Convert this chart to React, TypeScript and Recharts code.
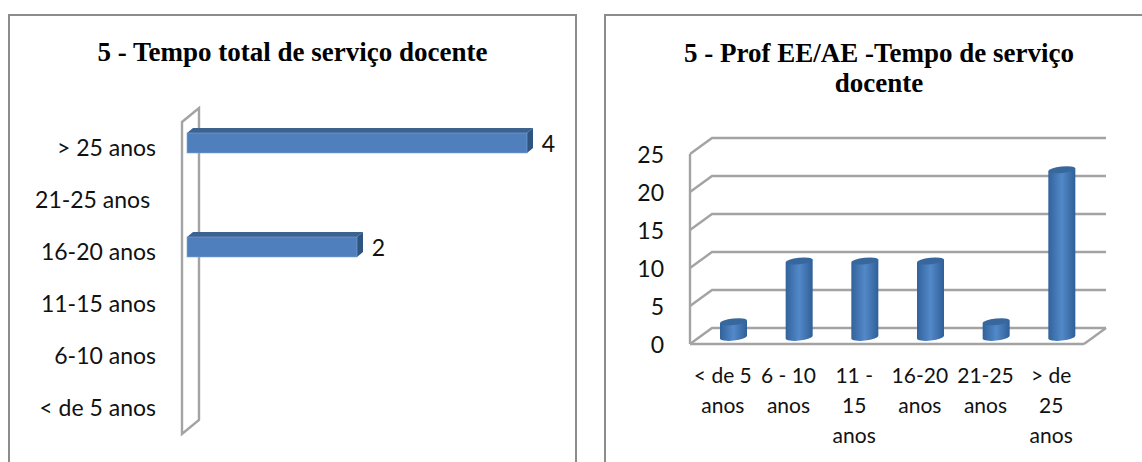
import { Bar, BarChart, CartesianGrid, LabelList, ReferenceArea, XAxis, YAxis } from "recharts"

const leftTitle = "5 - Tempo total de serviço docente"
const leftCategories = ["> 25 anos", "21-25 anos ", "16-20 anos", "11-15 anos", "6-10 anos", "< de 5 anos"]
const leftValues = [4, 0, 2, 0, 0, 0]

const rightTitle = ["5 - Prof EE/AE -Tempo de serviço", "docente"]
const rightCategories = ["< de 5 anos", "6 - 10 anos", "11 - 15 anos", "16-20 anos", "21-25 anos", "> de 25 anos"]
const rightTickLines = [["< de 5", "anos"], ["6 - 10", "anos"], ["11 -", "15", "anos"], ["16-20", "anos"], ["21-25", "anos"], ["> de", "25", "anos"]]
const rightValues = [2, 10, 10, 10, 2, 22]
const rightTicks = [0, 5, 10, 15, 20, 25]

const leftData = leftCategories.map((name, i) => ({ name, value: leftValues[i] }))
const rightData = rightCategories.map((name, i) => ({ name, value: rightValues[i] }))

const GRAY = "#A3A3A3"
const LABEL_FONT = "Lato, sans-serif"
const LABEL_SIZE = 23

function Wall({ x, y, height }: any) {
  const d = `M${x},${y} L${x + 17},${y - 14} L${x + 17},${y + height - 14} L${x},${y + height} Z`
  return <path d={d} fill="#fff" stroke={GRAY} strokeWidth={2.4} />
}

function Box({ x, y, width, height, value }: any) {
  if (!value) return null
  const bx = x + 5
  const by = y - 5
  return (
    <g>
      <path d={`M${bx},${by} L${bx + 6},${by - 5} L${bx + width + 6},${by - 5} L${bx + width},${by} Z`} fill="#3C628F" />
      <path d={`M${bx + width},${by} L${bx + width + 6},${by - 5} L${bx + width + 6},${by + height - 5} L${bx + width},${by + height} Z`} fill="#2F5480" />
      <rect x={bx} y={by} width={width} height={height} fill="#4F7FBC" stroke="#7FA3D0" strokeWidth={0.6} />
    </g>
  )
}

function Cylinder({ x, y, width, height }: any) {
  const cx = x + 11 + width / 2
  const top = y - 7
  const bottom = y + height - 7
  const rx = width / 2
  const d = `M${cx - rx},${top + 1.4} L${cx - rx},${bottom + 1.4} A${rx},3.6 -6 0 0 ${cx + rx},${bottom - 1.4} L${cx + rx},${top - 1.4} Z`
  return (
    <g>
      <path d={d} fill="url(#cyl)" />
      <ellipse cx={cx} cy={top} rx={rx} ry={3.2} fill="#38679E" transform={`rotate(-6 ${cx} ${top})`} />
    </g>
  )
}

function BackGridLine({ x1, y1, x2, y2 }: any) {
  const isFloor = y1 > 340
  return (
    <g>
      <polyline points={`${x1},${y1} ${x1 + 22},${y1 - 16} ${x2 + 22},${y2 - 16}`} fill="none" stroke={GRAY} strokeWidth={2.4} />
      {isFloor && <line x1={x2} y1={y2} x2={x2 + 22} y2={y2 - 16} stroke={GRAY} strokeWidth={2.4} />}
    </g>
  )
}

function LeftTick({ x, y, payload }: any) {
  return (
    <text x={x} y={y} dy={8} textAnchor="end" fontFamily={LABEL_FONT} fontSize={LABEL_SIZE} fill="#111" style={{ whiteSpace: "pre" }}>
      {payload.value}
    </text>
  )
}

function RightTick({ x, y, index }: any) {
  return (
    <text x={x} y={y} textAnchor="middle" fontFamily={LABEL_FONT} fontSize={21} fill="#111">
      {rightTickLines[index].map((line, i) => (
        <tspan key={i} x={x} y={y + 31 + i * 30}>{line}</tspan>
      ))}
    </text>
  )
}

function ValueLabel({ x, y, width, height, value }: any) {
  if (!value) return null
  return (
    <text x={x + width + 26.5} y={y + height / 2 + 4} fontFamily={LABEL_FONT} fontSize={LABEL_SIZE} fill="#111" textAnchor="middle">
      {value}
    </text>
  )
}

const panel = (left: number, width: number): React.CSSProperties => ({
  position: "absolute",
  left,
  top: 14,
  width,
  height: 448,
  boxSizing: "border-box",
  borderTop: "2px solid #8C8C8C",
  borderLeft: "2px solid #8C8C8C",
  borderRight: "2px solid #8C8C8C",
})

const titleStyle: React.CSSProperties = {
  position: "absolute",
  textAlign: "center",
  fontFamily: "'Liberation Serif', serif",
  fontWeight: 700,
  fontSize: 27,
  lineHeight: "30px",
  color: "#000",
  whiteSpace: "nowrap",
}

export default function App() {
  return (
    <div style={{ position: "absolute", left: 0, top: 0, width: 1142, height: 462, overflow: "hidden", background: "#fff" }}>
      <div style={panel(8, 569)} />
      <div style={{ ...titleStyle, left: 8, width: 569, top: 37 }}>{leftTitle}</div>
      <div style={{ position: "absolute", left: 0, top: 0 }}>
        <BarChart width={600} height={462} layout="vertical" data={leftData} barSize={20} margin={{ top: 122, right: 78, bottom: 28, left: 0 }}>
          <ReferenceArea shape={<Wall />} ifOverflow="visible" />
          <XAxis type="number" domain={[0, 4]} hide />
          <YAxis type="category" dataKey="name" width={182} axisLine={false} tickLine={false} tickMargin={20} interval={0} tick={<LeftTick />} />
          <Bar dataKey="value" isAnimationActive={false} shape={<Box />}>
            <LabelList dataKey="value" content={<ValueLabel />} />
          </Bar>
        </BarChart>
      </div>

      <div style={panel(604, 600)} />
      <div style={{ ...titleStyle, left: 604, width: 550, top: 38 }}>
        {rightTitle.map((line) => (
          <div key={line}>{line}</div>
        ))}
      </div>
      <div style={{ position: "absolute", left: 600, top: 0 }}>
        <svg width={0} height={0} style={{ position: "absolute" }}>
          <defs>
            <linearGradient id="cyl" x1="0" x2="1" y1="0" y2="0">
              <stop offset="0" stopColor="#31629B" />
              <stop offset="0.5" stopColor="#5389C9" />
              <stop offset="1" stopColor="#2F5F97" />
            </linearGradient>
          </defs>
        </svg>
        <BarChart width={542} height={462} data={rightData} barSize={27} margin={{ top: 154, right: 58, bottom: 0, left: 0 }}>
          <CartesianGrid vertical={false} horizontal={<BackGridLine />} />
          <XAxis dataKey="name" interval={0} height={118} axisLine={{ stroke: GRAY, strokeWidth: 2.4 }} tickLine={false} tick={<RightTick />} />
          <YAxis type="number" domain={[0, 25]} ticks={rightTicks} width={90} axisLine={{ stroke: GRAY, strokeWidth: 2.4 }} tickLine={false} tickMargin={20} tick={{ fontFamily: LABEL_FONT, fontSize: LABEL_SIZE, fill: "#111", dy: 1 }} />
          <Bar dataKey="value" isAnimationActive={false} shape={<Cylinder />} />
        </BarChart>
      </div>
    </div>
  )
}
